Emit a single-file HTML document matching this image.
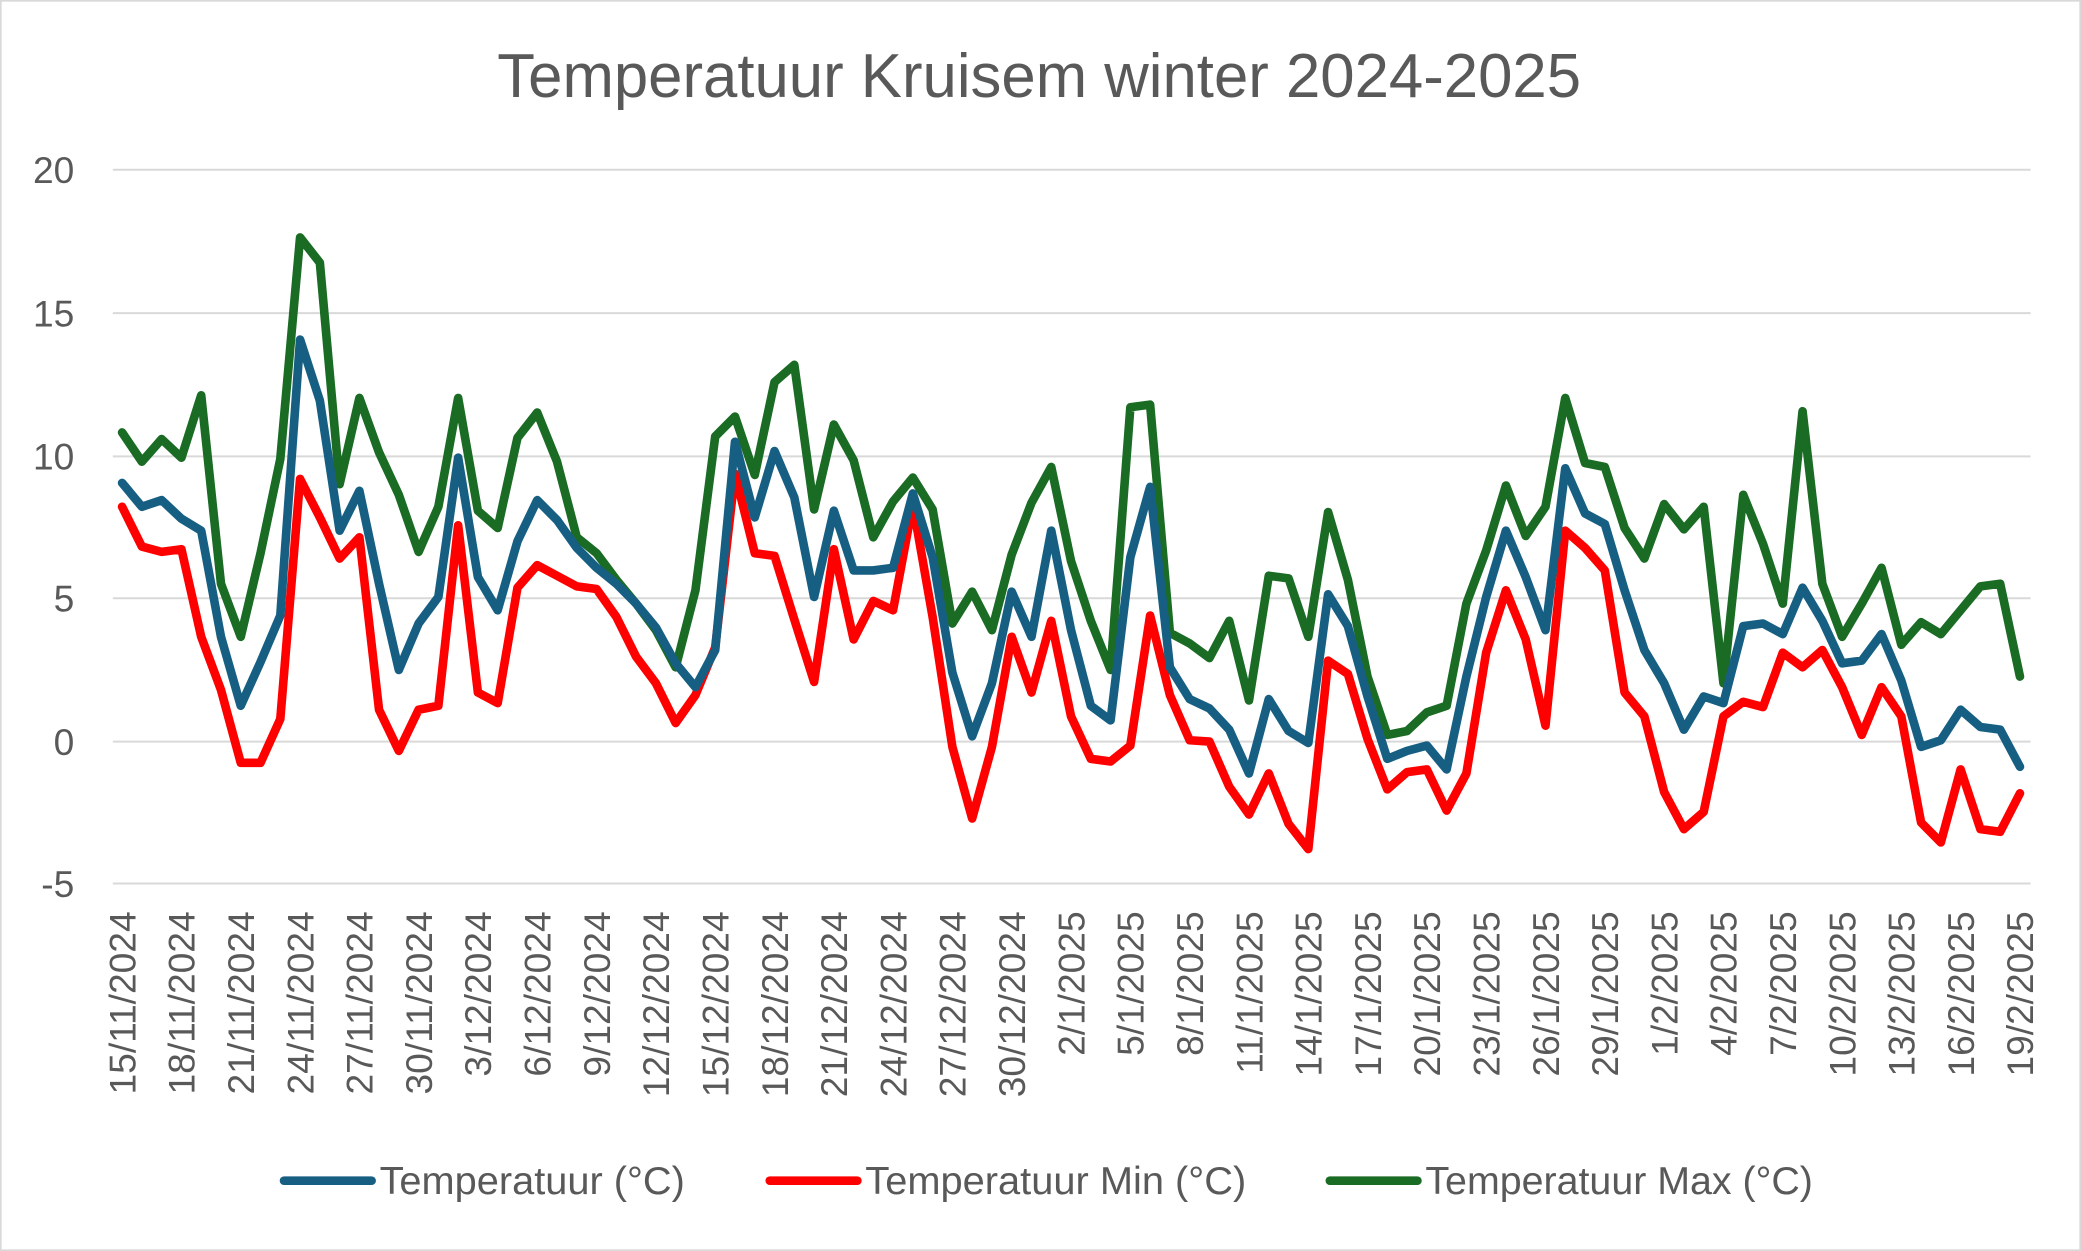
<!DOCTYPE html>
<html><head><meta charset="utf-8"><style>
html,body{margin:0;padding:0;background:#fff;}
svg{display:block;}
text{font-family:"Liberation Sans",sans-serif;fill:#595959;}
</style></head><body>
<svg id="s" width="2081" height="1251" viewBox="0 0 1568 943" preserveAspectRatio="none" xmlns="http://www.w3.org/2000/svg">
<rect x="0.5" y="0.5" width="1567" height="942" fill="#fff" stroke="#d9d9d9" stroke-width="1.5"/>
<text x="783" y="73" font-size="46.5" text-anchor="middle">Temperatuur Kruisem winter 2024-2025</text>
<g stroke="#d9d9d9" stroke-width="1.5">
<line x1="85" y1="128" x2="1530" y2="128"/><line x1="85" y1="236" x2="1530" y2="236"/>
<line x1="85" y1="344" x2="1530" y2="344"/><line x1="85" y1="451" x2="1530" y2="451"/>
<line x1="85" y1="559" x2="1530" y2="559"/><line x1="85" y1="666" x2="1530" y2="666"/>
</g>
<g font-size="28" text-anchor="end">
<text x="56" y="138">20</text><text x="56" y="246">15</text><text x="56" y="354">10</text>
<text x="56" y="461">5</text><text x="56" y="569">0</text><text x="56" y="676">-5</text>
</g>
<g id="xl" font-size="28" text-anchor="end">
<text transform="translate(102,687) rotate(-90)">15/11/2024</text>
<text transform="translate(146.7,687) rotate(-90)">18/11/2024</text>
<text transform="translate(191.4,687) rotate(-90)">21/11/2024</text>
<text transform="translate(236.1,687) rotate(-90)">24/11/2024</text>
<text transform="translate(280.8,687) rotate(-90)">27/11/2024</text>
<text transform="translate(325.4,687) rotate(-90)">30/11/2024</text>
<text transform="translate(370.1,687) rotate(-90)">3/12/2024</text>
<text transform="translate(414.8,687) rotate(-90)">6/12/2024</text>
<text transform="translate(459.5,687) rotate(-90)">9/12/2024</text>
<text transform="translate(504.2,687) rotate(-90)">12/12/2024</text>
<text transform="translate(548.9,687) rotate(-90)">15/12/2024</text>
<text transform="translate(593.6,687) rotate(-90)">18/12/2024</text>
<text transform="translate(638.3,687) rotate(-90)">21/12/2024</text>
<text transform="translate(683,687) rotate(-90)">24/12/2024</text>
<text transform="translate(727.6,687) rotate(-90)">27/12/2024</text>
<text transform="translate(772.3,687) rotate(-90)">30/12/2024</text>
<text transform="translate(817,687) rotate(-90)">2/1/2025</text>
<text transform="translate(861.7,687) rotate(-90)">5/1/2025</text>
<text transform="translate(906.4,687) rotate(-90)">8/1/2025</text>
<text transform="translate(951.1,687) rotate(-90)">11/1/2025</text>
<text transform="translate(995.8,687) rotate(-90)">14/1/2025</text>
<text transform="translate(1040.5,687) rotate(-90)">17/1/2025</text>
<text transform="translate(1085.2,687) rotate(-90)">20/1/2025</text>
<text transform="translate(1129.8,687) rotate(-90)">23/1/2025</text>
<text transform="translate(1174.5,687) rotate(-90)">26/1/2025</text>
<text transform="translate(1219.2,687) rotate(-90)">29/1/2025</text>
<text transform="translate(1263.9,687) rotate(-90)">1/2/2025</text>
<text transform="translate(1308.6,687) rotate(-90)">4/2/2025</text>
<text transform="translate(1353.3,687) rotate(-90)">7/2/2025</text>
<text transform="translate(1398,687) rotate(-90)">10/2/2025</text>
<text transform="translate(1442.7,687) rotate(-90)">13/2/2025</text>
<text transform="translate(1487.4,687) rotate(-90)">16/2/2025</text>
<text transform="translate(1532,687) rotate(-90)">19/2/2025</text>
</g>
<g fill="none" stroke-width="6.5" stroke-linejoin="round" stroke-linecap="round">
<polyline id="pg" stroke="#1a6b24"/>
<polyline id="pr" stroke="#ff0000"/>
<polyline id="pb" stroke="#175f82"/>
</g>
<g stroke-width="6.5" stroke-linecap="round">
<line x1="214" y1="890" x2="280" y2="890" stroke="#175f82"/>
<line x1="580" y1="890" x2="646" y2="890" stroke="#ff0000"/>
<line x1="1002" y1="890" x2="1068" y2="890" stroke="#1a6b24"/>
</g>
<g font-size="29">
<text x="286" y="900" textLength="230" lengthAdjust="spacingAndGlyphs">Temperatuur (°C)</text>
<text x="652" y="900" textLength="287" lengthAdjust="spacingAndGlyphs">Temperatuur Min (°C)</text>
<text x="1074" y="900" textLength="292" lengthAdjust="spacingAndGlyphs">Temperatuur Max (°C)</text>
</g>
</svg>
<script>
var B=[364,382,377,391,400,480,532,499,464,256,302,400,370,440,505,470,450,345,435,460,408,377,392,413,428,440,455,473,500,518,490,333,390,340,375,450,385,430,430,428,372,420,507,555,515,446,480,400,475,532,543,420,367,503,527,534,550,583,527,551,560,448,472,525,572,566,562,580,510,450,400,435,475,353,387,395,445,490,515,550,525,530,472,470,478,443,468,500,498,478,513,563,558,535,548,550,578];
var R=[382,412,416,414,480,520,575,575,542,361,390,421,405,535,566,535,532,396,522,530,443,426,434,442,444,465,495,515,545,524,488,357,417,419,467,514,414,482,453,460,380,465,563,617,563,480,522,468,540,572,574,562,464,524,558,559,593,614,583,621,640,498,508,557,595,582,580,611,583,492,445,482,547,400,413,430,522,540,597,625,612,540,529,533,492,503,490,518,554,518,540,620,635,580,625,627,598];
var G=[326,348,331,345,298,440,480,417,346,179,198,365,300,341,373,416,382,300,385,398,330,311,348,405,417,437,455,475,503,445,329,314,358,288,275,384,320,347,405,378,360,384,470,446,475,418,379,352,423,468,505,307,305,477,485,496,468,528,434,436,480,386,437,510,554,551,537,532,455,415,366,404,382,300,349,352,398,421,380,399,382,515,373,410,455,310,440,480,455,428,486,469,478,460,442,440,510];
function pts(a){return a.map(function(y,i){return (92+14.896*i).toFixed(1)+","+y}).join(" ");}
document.getElementById("pb").setAttribute("points",pts(B));
document.getElementById("pr").setAttribute("points",pts(R));
document.getElementById("pg").setAttribute("points",pts(G));
</script>
</body></html>
